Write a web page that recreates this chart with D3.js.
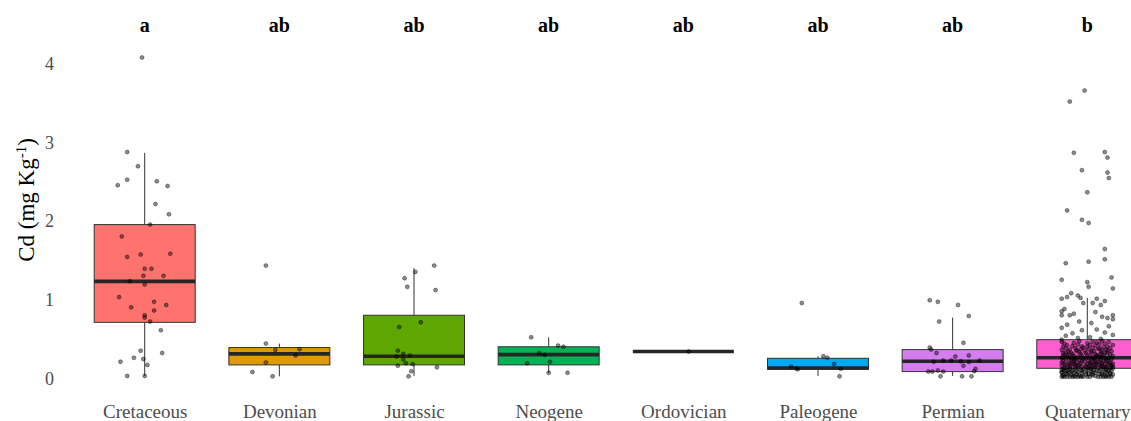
<!DOCTYPE html>
<html><head><meta charset="utf-8">
<script src="https://cdn.jsdelivr.net/npm/d3@7/dist/d3.min.js"></script>
<style>body{margin:0;background:#fff}svg{display:block}</style>
</head><body><svg id="c" width="1131" height="421"></svg>
<script>
const categories = ["Cretaceous","Devonian","Jurassic","Neogene","Ordovician","Paleogene","Permian","Quaternary"];
const letters = ["a","ab","ab","ab","ab","ab","ab","b"];
const colors = ["#FF736E","#E09A00","#5DA700","#00B455","#00BFC4","#00A9F4","#D57CF0","#FF5ED0"];
const yTicks = [0,1,2,3,4];
// box statistics
const whiskerLo = [0.03,0.025,0.03,0.07,0.34,0.03,0.03,0.02];
const q1        = [0.71,0.17,0.17,0.17,0.34,0.114,0.085,0.127];
const median    = [1.23,0.31,0.28,0.30,0.34,0.13,0.216,0.26];
const q3        = [1.95,0.39,0.80,0.40,0.34,0.254,0.364,0.49];
const whiskerHi = [2.86,0.44,1.40,0.52,0.34,0.28,0.77,1.02];
// observations: [Cd value, horizontal jitter in % of category step]
const cretaceous = [[4.07,-2],[2.87,-13],[2.69,-5],[2.52,-13],[2.45,-20],[2.50,9],[2.44,17],[2.21,8],[2.08,18],[1.95,4],[1.80,-17],[1.58,19],[1.57,-3],[1.54,-13],[1.39,0],[1.39,5],[1.30,-1],[1.30,14],[1.23,-11],[1.19,0],[1.03,-19],[0.97,7],[0.93,16],[0.90,-10],[0.86,7],[0.80,0],[0.77,0],[0.72,4],[0.61,12],[0.35,-3],[0.32,13],[0.26,-8],[0.245,-1],[0.21,-18],[0.17,2],[0.03,-13],[0.03,0]];
const devonian = [[1.43,-10],[0.44,-10],[0.36,-3],[0.37,15],[0.29,12],[0.20,-10],[0.08,-20],[0.025,-5]];
const jurassic = [[1.43,15],[1.35,1],[1.27,-7],[1.16,-5],[1.12,16],[0.71,5],[0.65,-11],[0.35,-12],[0.31,-8],[0.275,-13],[0.29,-3],[0.24,-8],[0.19,-6],[0.16,-12],[0.18,-1],[0.14,17],[0.09,-2],[0.025,-4]];
const neogene = [[0.52,-13],[0.415,7],[0.40,11],[0.32,-7],[0.30,-3],[0.19,-16],[0.21,1],[0.07,0],[0.07,14]];
const ordovician = [[0.34,4]];
const paleogene = [[0.955,-12],[0.28,4],[0.26,7],[0.18,12],[0.15,-20],[0.114,-15],[0.125,-16],[0.12,17],[0.025,16]];
const permian = [[0.99,-17],[0.97,-11],[0.93,4],[0.79,12],[0.72,-10],[0.45,8],[0.39,-17],[0.365,-16],[0.32,-12],[0.275,2],[0.29,12],[0.21,-14],[0.225,-7],[0.225,-1],[0.216,6],[0.207,12],[0.225,20],[0.16,8],[0.12,17],[0.09,16],[0.085,-18],[0.085,-15],[0.10,-11],[0.085,-7],[0.025,-9],[0.025,7],[0.025,14]];
const quaternary = [[3.65,-2],[3.51,-13],[2.86,-10],[2.87,13],[2.80,15],[2.64,-4],[2.61,15],[2.54,16],[2.36,0],[2.13,-15],[2.01,-4],[1.97,1],[1.64,13],[1.51,13],[1.46,-16],[1.48,1],[1.28,18],[1.25,-19],[1.22,0],[1.16,1],[1.14,19],[1.08,-12],[1.05,-7],[1.03,-15],[1.02,-5],[1.01,7],[1.01,-19],[0.98,13],[0.955,-3],[0.955,4],[0.93,10],[0.88,-17],[0.85,-19],[0.84,6],[0.82,-10],[0.80,-13],[0.80,-19],[0.80,19],[0.78,11],[0.765,15],[0.75,19],[0.72,-6],[0.70,3],[0.68,-15],[0.66,16],[0.64,-19],[0.62,7],[0.61,-4],[0.58,13],[0.57,-11],[0.55,19],[0.54,-16],[0.52,2],[0.51,-7],[0.50,10],[0.49,-19],
[0.02,-19],[0.02,-17],[0.02,-15],[0.02,-13],[0.02,-11],[0.02,-9],[0.02,-7],[0.02,-5],[0.02,-3],[0.02,0],[0.02,2],[0.02,8],[0.02,10],[0.02,12],[0.02,14],[0.02,16],[0.02,18],
[0.04,-18],[0.045,-12],[0.035,-6],[0.05,-1],[0.04,4],[0.055,9],[0.038,15],[0.047,19],
[0.06,-16],[0.065,-10],[0.07,-4],[0.058,1],[0.072,6],[0.063,11],[0.068,17],
[0.08,-19],[0.085,-14],[0.09,-8],[0.078,-2],[0.088,3],[0.095,7],[0.082,13],[0.092,18],
[0.1,-17],[0.105,-11],[0.11,-5],[0.098,0],[0.108,5],[0.115,10],[0.102,16],
[0.12,-18],[0.125,-13],[0.13,-7],[0.118,-3],[0.128,2],[0.135,8],[0.122,12],[0.132,17],[0.126,19],
[0.14,-15],[0.145,-9],[0.15,-4],[0.138,1],[0.148,6],[0.155,11],[0.142,14],[0.152,18],
[0.16,-19],[0.165,-12],[0.17,-6],[0.158,-1],[0.168,4],[0.175,9],[0.162,15],
[0.18,-17],[0.185,-10],[0.19,-5],[0.178,0],[0.188,3],[0.195,7],[0.182,13],[0.192,16],[0.186,19],
[0.2,-14],[0.205,-8],[0.21,-2],[0.198,2],[0.208,6],[0.215,12],[0.202,17],
[0.22,-18],[0.225,-11],[0.23,-6],[0.218,1],[0.228,5],[0.235,10],[0.222,15],
[0.24,-16],[0.245,-9],[0.25,-3],[0.238,3],[0.248,8],[0.255,14],[0.242,18],
[0.26,-19],[0.265,-13],[0.27,-7],[0.258,-1],[0.268,4],[0.275,9],[0.262,16],
[0.28,-15],[0.285,-10],[0.29,-4],[0.278,2],[0.288,7],[0.295,12],[0.282,19],
[0.3,-17],[0.305,-11],[0.31,-5],[0.298,0],[0.308,6],[0.315,13],[0.302,17],
[0.32,-18],[0.325,-12],[0.33,-6],[0.328,3],[0.335,10],[0.322,15],
[0.34,-14],[0.345,-8],[0.35,-2],[0.348,5],[0.355,11],[0.342,18],
[0.36,-19],[0.365,-13],[0.37,-5],[0.368,1],[0.375,8],[0.362,14],
[0.38,-16],[0.385,-9],[0.39,-3],[0.388,4],[0.395,12],[0.382,17],
[0.4,-18],[0.41,-11],[0.405,-4],[0.415,6],[0.402,15],
[0.42,-15],[0.43,-7],[0.425,2],[0.435,9],[0.422,19],
[0.44,-17],[0.45,-10],[0.445,0],[0.455,7],[0.442,13],
[0.46,-19],[0.47,-6],[0.465,4],[0.475,11],[0.462,16],
[0.03,-18],[0.03,-10],[0.03,-4],[0.03,6],[0.03,13],[0.05,-15],[0.05,-8],[0.05,3],[0.05,11],[0.05,17],
[0.07,-19],[0.07,-13],[0.075,-7],[0.07,4],[0.075,14],[0.09,-16],[0.09,-11],[0.095,-4],[0.09,9],[0.1,15],
[0.11,-19],[0.11,-14],[0.12,-9],[0.115,3],[0.12,14],[0.13,-17],[0.135,-1],[0.14,5],[0.14,12],[0.145,19],
[0.15,-13],[0.155,-7],[0.16,2],[0.16,10],[0.165,18],[0.17,-16],[0.175,-9],[0.18,6],[0.19,11],[0.19,-13],
[0.2,-19],[0.21,-10],[0.21,9],[0.22,-4],[0.23,14],[0.24,-12],[0.25,5],[0.26,-9],[0.27,11],[0.28,-18],
[0.29,7],[0.3,-14],[0.31,10],[0.32,-1],[0.33,-16],[0.34,3],[0.35,15],[0.36,-8],[0.38,9],[0.4,0]];
const observations = [cretaceous,devonian,jurassic,neogene,ordovician,paleogene,permian,quaternary];

const svg = d3.select("#c");
const x = d3.scalePoint().domain(categories).range([144.7, 1087.3]);
const step = x.step();
const boxW = step * 0.75;
const y = d3.scaleLinear().domain([0, 4]).range([378.3, 63]);
const serif = '"Liberation Serif", "Times New Roman", serif';

// y axis tick labels (no axis line / ticks)
const yAxis = d3.axisLeft(y).tickValues(yTicks).tickSize(0).tickPadding(0).tickFormat(d3.format("d"));
const yg = svg.append("g").attr("transform","translate(54,0)").call(yAxis);
yg.attr("font-family", null).attr("font-size", null);
yg.select(".domain").remove();
yg.selectAll("text").style("font-family",serif).style("font-size","18px").attr("fill","#4d4d4d").attr("dy","0.35em");

// x axis labels
const xAxis = d3.axisBottom(x).tickSize(0).tickPadding(0);
const xg = svg.append("g").attr("transform","translate(0,404)").call(xAxis);
xg.attr("font-family", null).attr("font-size", null);
xg.select(".domain").remove();
xg.selectAll("text").style("font-family",serif).style("font-size","19px").attr("fill","#4d4d4d").attr("dy","0.71em");

// y title
svg.append("text").attr("transform","translate(34,200) rotate(-90)").attr("text-anchor","middle")
  .style("font-family",serif).style("font-size","23px").attr("fill","#000")
  .html('Cd (mg Kg<tspan dy="-8" font-size="15">-1</tspan><tspan dy="8">)</tspan>');

// significance letters
svg.append("g").selectAll("text").data(categories).join("text")
  .attr("x", d => x(d)).attr("y", 32).attr("text-anchor","middle")
  .style("font-family",serif).style("font-weight","bold").style("font-size","20px").attr("fill","#000")
  .text((d,i) => letters[i]);

// boxes
const boxes = svg.append("g").selectAll("g").data(categories).join("g");
boxes.append("line")
  .attr("x1", d => x(d)).attr("x2", d => x(d))
  .attr("y1", (d,i) => y(whiskerHi[i])).attr("y2", (d,i) => y(q3[i]))
  .attr("stroke","#333").attr("stroke-width",1);
boxes.append("line")
  .attr("x1", d => x(d)).attr("x2", d => x(d))
  .attr("y1", (d,i) => y(q1[i])).attr("y2", (d,i) => y(whiskerLo[i]))
  .attr("stroke","#333").attr("stroke-width",1);
boxes.append("rect")
  .attr("x", d => x(d) - boxW/2).attr("width", boxW)
  .attr("y", (d,i) => y(q3[i])).attr("height", (d,i) => y(q1[i]) - y(q3[i]))
  .attr("fill", (d,i) => colors[i]).attr("stroke","#333").attr("stroke-width",1);
boxes.append("line")
  .attr("x1", d => x(d) - boxW/2).attr("x2", d => x(d) + boxW/2)
  .attr("y1", (d,i) => y(median[i])).attr("y2", (d,i) => y(median[i]))
  .attr("stroke","#262626").attr("stroke-width",3.6);

// jittered points
const pts = [];
observations.forEach((arr,i) => arr.forEach(([v,j]) => pts.push({c:categories[i], v, j})));
svg.append("g").selectAll("circle").data(pts).join("circle")
  .attr("cx", d => x(d.c) + d.j/100*step)
  .attr("cy", d => y(d.v))
  .attr("r", 2)
  .attr("fill","rgba(0,0,0,0.45)")
  .attr("stroke","rgba(0,0,0,0.5)").attr("stroke-width",0.7);
</script></body></html>
